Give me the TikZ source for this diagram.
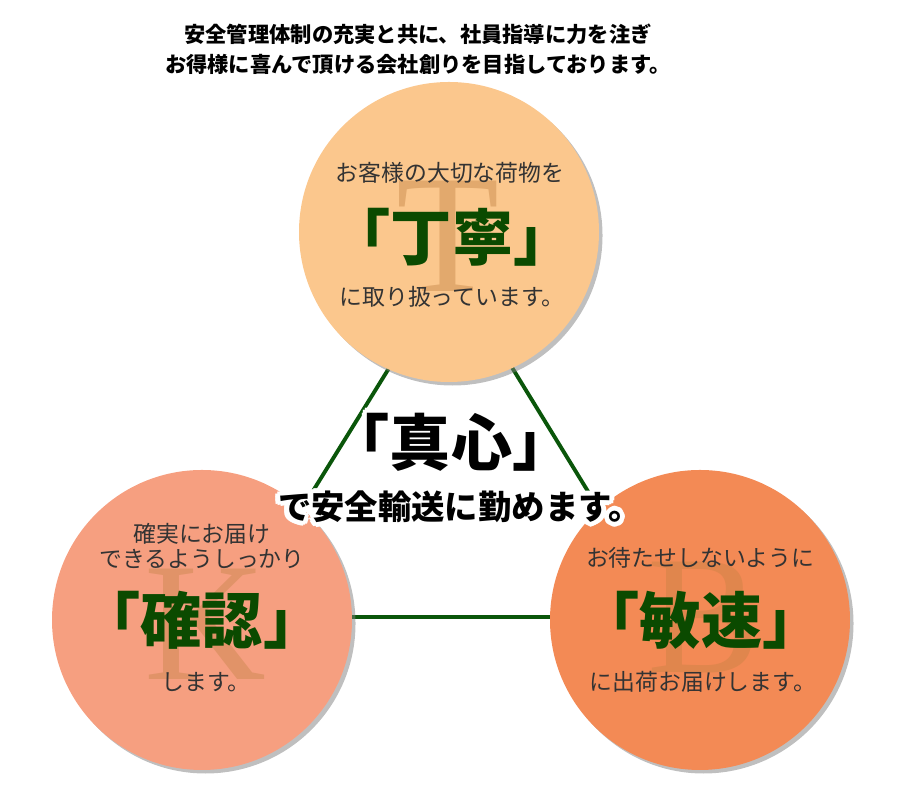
\documentclass[tikz,border=0pt]{standalone}
\usepackage{fontspec}
\newfontfamily\jp{Noto Sans CJK JP}
\newfontfamily\capserif{Liberation Serif}
\usepackage{xcolor}
\usetikzlibrary{positioning,shadows}
\definecolor{peach}{HTML}{FBC78D}
\definecolor{salmon}{HTML}{F69F80}
\definecolor{coral}{HTML}{F38A55}
\definecolor{leaf}{HTML}{0B4A00}
\definecolor{wire}{HTML}{0A560A}
\definecolor{ink}{HTML}{333333}
\begin{document}
\begin{tikzpicture}[disc/.style={circle,minimum size=3cm,inner sep=0pt,drop shadow={shadow xshift=1pt,shadow yshift=-1pt,opacity=.5}},
  sub/.style={font=\jp\fontsize{6.5}{7}\selectfont,text=ink,inner sep=0pt},
  key/.style={font=\jp\bfseries\fontsize{17.4}{18}\selectfont,text=leaf,inner sep=0pt},
  initial/.style={font=\capserif\fontsize{48}{48}\selectfont,inner sep=0pt},
  motto/.style={font=\jp\bfseries\fontsize{#1}{#1}\selectfont,inner sep=0pt}]
  \useasboundingbox (0,0) rectangle (9,8);
  \node[motto=6,align=center,font=\jp\bfseries\fontsize{6.05}{8.5}\selectfont] (head) at (4.18,7.51) {安全管理体制の充実と共に、社員指導に力を注ぎ\\お得様に喜んで頂ける会社創りを目指しております。};
  \coordinate (apex) at (4.51,5.32); \coordinate (lft) at (2.35,1.83); \coordinate (rgt) at (6.65,1.83);
  \draw[wire,line width=1.1pt] (apex) -- (lft) -- (rgt) -- cycle;
  \node[disc,fill=peach] (teinei) at (4.49,5.68) {};
  \node[disc,fill=salmon] (kakunin) at (2.02,1.80) {};
  \node[disc,fill=coral] (binsoku) at (7.00,1.80) {};
  \node[initial,text=peach!58!brown] (tt) at (4.48,5.64) {T};
  \node[initial,text=salmon!62!brown] (kk) at (2.05,1.76) {K};
  \node[initial,text=coral!64!brown] (bb) at (7.04,1.82) {B};
  \node[sub] (t1) at (4.50,6.27) {お客様の大切な荷物を};
  \node[key] (t2) at (4.52,5.63) {「丁寧」};
  \node[sub] (t3) at (4.52,5.03) {に取り扱っています。};
  \node[sub,align=center,font=\jp\fontsize{6.5}{6.9}\selectfont] (k1) at (2.02,2.54) {確実にお届け\\できるようしっかり};
  \node[key] (k2) at (2.02,1.80) {「確認」};
  \node[sub] (k3) at (2.06,1.18) {します。};
  \node[sub] (b1) at (7.00,2.42) {お待たせしないように};
  \node[key] (b2) at (7.01,1.80) {「敏速」};
  \node[sub] (b3) at (7.03,1.18) {に出荷お届けします。};
  \foreach \a in {0,30,...,330}{
    \node[motto=17.4,text=white] (gl\a) at ([shift={(\a:1.4pt)}]4.51,3.58) {「真心」};
    \node[motto=9.5,text=white] (gm\a) at ([shift={(\a:1.4pt)}]4.60,2.93) {で安全輸送に勤めます。};
  }
  \node[motto=17.4] (shinshin) at (4.51,3.58) {「真心」};
  \node[motto=9.5] (tagline) at (4.60,2.93) {で安全輸送に勤めます。};
\end{tikzpicture}
\end{document}
